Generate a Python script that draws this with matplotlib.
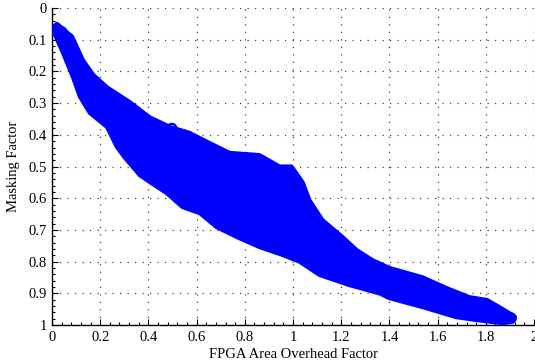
import matplotlib
matplotlib.use("Agg")
import matplotlib.pyplot as plt
from matplotlib.ticker import MultipleLocator

plt.rcParams['font.family'] = ['Liberation Serif', 'DejaVu Serif']

# outline of the point cloud (x = area overhead, y = masking)
upper_x = [0.02, 0.083, 0.128, 0.17, 0.228, 0.323, 0.406, 0.489, 0.571, 0.654,
           0.737, 0.861, 0.944, 0.994, 1.04, 1.068, 1.122, 1.205, 1.263, 1.329,
           1.40, 1.536, 1.636, 1.731, 1.805, 1.855, 1.897, 1.92]
upper_y = [0.05, 0.09, 0.164, 0.21, 0.25, 0.297, 0.345, 0.375, 0.394, 0.426,
           0.457, 0.464, 0.50, 0.50, 0.55, 0.606, 0.669, 0.722, 0.763, 0.795,
           0.82, 0.849, 0.883, 0.912, 0.921, 0.943, 0.962, 0.975]
lower_x = [0.004, 0.046, 0.087, 0.116, 0.157, 0.228, 0.269, 0.30, 0.364, 0.406,
           0.476, 0.542, 0.613, 0.683, 0.766, 0.861, 0.957, 1.027, 1.11, 1.234,
           1.358, 1.40, 1.536, 1.677, 1.76, 1.867, 1.91]
lower_y = [0.07, 0.142, 0.218, 0.28, 0.331, 0.375, 0.438, 0.47, 0.527, 0.549,
           0.584, 0.628, 0.647, 0.691, 0.722, 0.754, 0.779, 0.80, 0.842, 0.874,
           0.90, 0.915, 0.943, 0.975, 0.984, 0.994, 0.99]

# a few single points that stand out from the cloud
pts_x = [0.02, 0.04, 0.497, 1.88, 1.905]
pts_y = [0.065, 0.075, 0.38, 0.97, 0.978]

xticks = [0, 0.2, 0.4, 0.6, 0.8, 1, 1.2, 1.4, 1.6, 1.8, 2]
xtick_labels = ['0', '0.2', '0.4', '0.6', '0.8', '1', '1.2', '1.4', '1.6', '1.8', '2']
yticks = [0, 0.1, 0.2, 0.3, 0.4, 0.5, 0.6, 0.7, 0.8, 0.9, 1]
ytick_labels = ['0', '0.1', '0.2', '0.3', '0.4', '0.5', '0.6', '0.7', '0.8', '0.9', '1']

fig = plt.figure(figsize=(5.35, 3.64), dpi=100)
ax = fig.add_axes([0.0972, 0.107, 0.901, 0.871])

blue = '#0000ff'
ax.fill(upper_x + lower_x[::-1], upper_y + lower_y[::-1], color=blue,
        ec=blue, lw=3, joinstyle='round', zorder=3)
ax.scatter(pts_x, pts_y, s=45, facecolors='none', edgecolors=blue,
           linewidths=1.6, zorder=4)

ax.set_xlim(0, 2)
ax.set_ylim(1, 0)
ax.set_xticks(xticks)
ax.set_xticklabels(xtick_labels)
ax.set_yticks(yticks)
ax.set_yticklabels(ytick_labels)
ax.xaxis.set_minor_locator(MultipleLocator(0.04))
ax.yaxis.set_minor_locator(MultipleLocator(0.02))
ax.tick_params(which='both', direction='in', labelsize=10.5, width=0.8)
ax.tick_params(which='major', length=4)
ax.tick_params(which='minor', length=2)
ax.tick_params(axis='x', pad=4)

ax.grid(True, which='major', linestyle=(0, (1, 5)), color='#444444', linewidth=0.9)
ax.set_axisbelow(True)
for s in ['top', 'right']:
    ax.spines[s].set_visible(False)
ax.spines['left'].set_linewidth(1.0)
ax.spines['bottom'].set_linewidth(1.0)

ax.set_xlabel('FPGA Area Overhead Factor', fontsize=10.5, labelpad=3)
ax.set_ylabel('Masking Factor', fontsize=10.5, labelpad=6)

fig.savefig('out.png', dpi=100)
